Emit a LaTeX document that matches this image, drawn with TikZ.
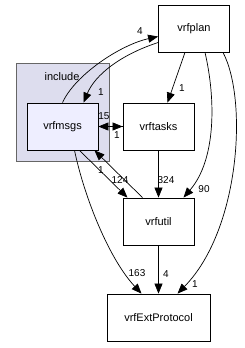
\documentclass[tikz,border=0pt]{standalone}
\usepackage{fontspec}
\setmainfont{Liberation Sans}
\usetikzlibrary{arrows.meta,positioning}
\definecolor{clusterfill}{HTML}{DDDDEE}
\definecolor{dirfill}{HTML}{EEEEFF}

\begin{document}
\begin{tikzpicture}[
    x=1pt, y=-1pt,
    dirbox/.style={
        rectangle, draw, line width=0.8pt, fill=white,
        minimum width=71pt, minimum height=47pt,
        inner sep=0pt, font=\fontsize{11}{13}\selectfont
    },
    clusterbox/.style={
        rectangle, draw=black!60, line width=0.8pt, fill=clusterfill,
        minimum width=93pt, minimum height=98pt, inner sep=0pt
    },
    dep/.style={-{Triangle[length=10pt,width=8pt]}, line width=0.7pt},
    num/.style={font=\fontsize{10}{11}\selectfont, inner sep=0pt}
]
\useasboundingbox (0,0) rectangle (244,348);

% Cluster
\node[clusterbox] (incl) at (62.5,112) {};
\node[font=\fontsize{11}{13}\selectfont] (incllabel) at (62,77) {include};

% Directories
\node[dirbox, fill=dirfill] (msgs) at (62.5,126.5) {vrfmsgs};
\node[dirbox] (plan) at (194,28.5) {vrfplan};
\node[dirbox] (tasks) at (158.5,126.5) {vrftasks};
\node[dirbox] (util) at (158.5,221.5) {vrfutil};
\node[dirbox, minimum width=103pt] (ext) at (158.5,317.5) {vrfExtProtocol};

% Dependencies
\draw[dep] (msgs.north) .. controls (75,75) and (120,45) .. ([yshift=-8pt]plan.west);
\node[num] (n4) at (140,31) {4};
\draw[dep] ([yshift=-14pt]plan.west) .. controls (120,55) and (95,75) .. ([xshift=21pt]msgs.north);
\node[num] (n1a) at (101,92) {1};
\draw[dep] ([xshift=-9pt]plan.south) -- ([xshift=9pt]tasks.north);
\node[num] (n1b) at (182,88) {1};
\draw[dep] ([xshift=11pt]plan.south) .. controls (216,100) and (216,160) .. ([xshift=25pt]util.north);
\node[num] (n90) at (204,189) {90};
\draw[dep] ([xshift=29pt]plan.south) .. controls (248,100) and (240,230) .. ([xshift=19pt]ext.north);
\node[num] (n1c) at (195,284) {1};

\draw[dep] (msgs.east) -- (tasks.west);
\draw[dep] (tasks.west) -- (msgs.east);
\node[num] (n15) at (104,116) {15};
\node[num] (n1d) at (117,135) {1};

\draw[dep] ([xshift=17pt]msgs.south) -- ([xshift=-31pt]util.north);
\node[num] (n124) at (120,180) {124};
\draw[dep] ([xshift=-16pt]util.north) -- ([xshift=32pt]msgs.south);
\node[num] (n1e) at (101,170) {1};

\draw[dep] (tasks.south) -- (util.north);
\node[num] (n324) at (166,180) {324};

\draw[dep] ([xshift=12pt]msgs.south) .. controls (85,200) and (110,260) .. ([xshift=-17pt]ext.north);
\node[num] (n163) at (137,273) {163};
\draw[dep] (util.south) -- (ext.north);
\node[num] (n4b) at (166,274) {4};
\end{tikzpicture}
\end{document}
